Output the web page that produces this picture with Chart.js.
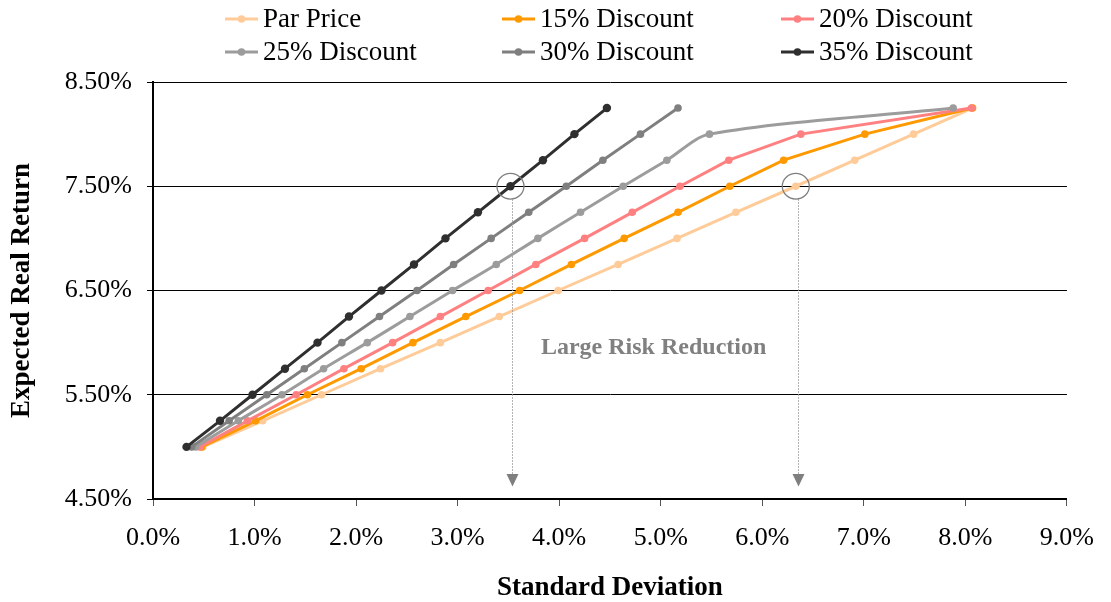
<!DOCTYPE html>
<html>
<head>
<meta charset="utf-8">
<script src="https://cdn.jsdelivr.net/npm/chart.js@4.4.1/dist/chart.umd.min.js"></script>
<style>
  html, body { margin: 0; padding: 0; background: #ffffff; }
  #wrap { width: 1111px; height: 602px; }
</style>
</head>
<body>
<div id="wrap"><canvas id="c" width="1111" height="602"></canvas></div>
<script>
// Expected real return (%) for each point on the frontiers
const returns = [5.00, 5.25, 5.50, 5.75, 6.00, 6.25, 6.50, 6.75, 7.00, 7.25, 7.50, 7.75, 8.00, 8.25];

// Standard deviation (%) of each frontier at those returns
const sdPar = [0.49, 1.08, 1.66, 2.24, 2.83, 3.41, 3.99, 4.58, 5.16, 5.74, 6.33, 6.91, 7.49, 8.07];
const sd15  = [0.48, 1.01, 1.52, 2.05, 2.56, 3.08, 3.61, 4.12, 4.64, 5.17, 5.68, 6.21, 7.01, 8.07];
const sd20  = [0.46, 0.93, 1.41, 1.88, 2.36, 2.83, 3.30, 3.77, 4.25, 4.72, 5.19, 5.67, 6.38, 8.06];
const sd25  = [0.42, 0.84, 1.27, 1.68, 2.11, 2.53, 2.95, 3.38, 3.79, 4.21, 4.63, 5.06, 5.48, 7.88];
const sd30  = [0.38, 0.75, 1.12, 1.49, 1.86, 2.23, 2.60, 2.96, 3.33, 3.70, 4.07, 4.43, 4.80, 5.17];
const sd35  = [0.33, 0.66, 0.98, 1.30, 1.62, 1.93, 2.25, 2.57, 2.88, 3.20, 3.52, 3.84, 4.15, 4.47];

const seriesLabels = ['Par Price', '15% Discount', '20% Discount', '25% Discount', '30% Discount', '35% Discount'];
const seriesSd = [sdPar, sd15, sd20, sd25, sd30, sd35];
const seriesColors = ['#FFCC99', '#FF9900', '#FF8080', '#9C9C9C', '#7F7F7F', '#2F2F2F'];

// Axis ticks
const xTicks = [0, 1, 2, 3, 4, 5, 6, 7, 8, 9];
const yTicks = [4.5, 5.5, 6.5, 7.5, 8.5];

// Highlighted return level and the label between the drop lines
const highlightReturn = 7.50;
const noteText = 'Large Risk Reduction';

const FONT = "'Liberation Serif', 'Times New Roman', serif";

const datasets = seriesLabels.map((label, i) => ({
  label,
  data: returns.map((r, k) => ({ x: seriesSd[i][k], y: r })),
  borderColor: seriesColors[i],
  backgroundColor: seriesColors[i],
  pointBackgroundColor: seriesColors[i],
  pointBorderWidth: 0,
  pointRadius: i === 5 ? 4.2 : 3.8,
  pointHoverRadius: 4,
  borderWidth: 3,
  tension: i === 3 ? 0.3 : 0,
  order: seriesLabels.length - i,
  fill: false
}));

// Two-row legend with line+marker swatches
const legendPlugin = {
  id: 'twoRowLegend',
  afterDraw(chart) {
    const ctx = chart.ctx;
    const colX = [225, 502, 781];
    const rowY = [19, 52];
    ctx.save();
    ctx.font = `27px ${FONT}`;
    ctx.textBaseline = 'middle';
    ctx.textAlign = 'left';
    chart.data.datasets.forEach((ds, i) => {
      const x = colX[i % 3];
      const y = rowY[Math.floor(i / 3)];
      ctx.strokeStyle = ds.borderColor;
      ctx.lineWidth = 3;
      ctx.beginPath();
      ctx.moveTo(x, y);
      ctx.lineTo(x + 33, y);
      ctx.stroke();
      ctx.fillStyle = ds.borderColor;
      ctx.beginPath();
      ctx.arc(x + 16.5, y, 3.8, 0, Math.PI * 2);
      ctx.fill();
      ctx.fillStyle = '#000000';
      ctx.fillText(ds.label, x + 38, y + 1);
    });
    ctx.restore();
  }
};

// Circles on the 7.50% points, dotted drop lines with arrows, and the note
const markerPlugin = {
  id: 'riskMarkers',
  afterDatasetsDraw(chart) {
    const { ctx, scales: { x, y } } = chart;
    const k = returns.indexOf(highlightReturn);
    const cy = y.getPixelForValue(highlightReturn);
    const arrowTip = y.getPixelForValue(4.62);
    const arrowTop = y.getPixelForValue(4.74);
    ctx.save();
    [sd35[k], sdPar[k]].forEach(sd => {
      const cx = x.getPixelForValue(sd);
      ctx.strokeStyle = '#7F7F7F';
      ctx.lineWidth = 1.3;
      ctx.setLineDash([]);
      ctx.beginPath();
      ctx.ellipse(cx, cy, 13.5, 12.8, 0, 0, Math.PI * 2);
      ctx.stroke();

      const lx = Math.round(cx + 2) + 0.5;
      ctx.strokeStyle = '#9A9A9A';
      ctx.lineWidth = 1;
      ctx.setLineDash([1.5, 1.5]);
      ctx.beginPath();
      ctx.moveTo(lx, cy + 13);
      ctx.lineTo(lx, arrowTop);
      ctx.stroke();

      ctx.setLineDash([]);
      ctx.fillStyle = '#7F7F7F';
      ctx.beginPath();
      ctx.moveTo(lx - 6, arrowTop);
      ctx.lineTo(lx + 6, arrowTop);
      ctx.lineTo(lx, arrowTip);
      ctx.closePath();
      ctx.fill();
    });

    ctx.fillStyle = '#808080';
    ctx.font = `bold 24px ${FONT}`;
    ctx.textAlign = 'center';
    ctx.textBaseline = 'middle';
    ctx.fillText(noteText, x.getPixelForValue(4.93), y.getPixelForValue(5.95));
    ctx.restore();
  }
};

new Chart(document.getElementById('c'), {
  type: 'line',
  data: { datasets },
  plugins: [legendPlugin, markerPlugin],
  options: {
    responsive: false,
    animation: false,
    devicePixelRatio: 1,
    layout: { padding: { top: 82, right: 43, bottom: 0, left: 0 } },
    plugins: {
      legend: { display: false },
      tooltip: { enabled: false }
    },
    scales: {
      x: {
        type: 'linear',
        min: xTicks[0],
        max: xTicks[xTicks.length - 1],
        afterBuildTicks(scale) { scale.ticks = xTicks.map(v => ({ value: v })); },
        afterFit(scale) { scale.height = 103; },
        ticks: {
          callback: v => v.toFixed(1) + '%',
          font: { family: FONT, size: 26 },
          color: '#000000',
          padding: 17,
          maxRotation: 0,
          autoSkip: false
        },
        grid: { drawOnChartArea: false, drawTicks: true, tickLength: 7, color: '#555555', lineWidth: 1 },
        border: { color: '#000000', width: 2 },
        title: {
          display: true,
          text: 'Standard Deviation',
          font: { family: FONT, size: 27, weight: 'bold', lineHeight: 1.0 },
          color: '#000000',
          padding: { top: 0, bottom: 0 }
        }
      },
      y: {
        type: 'linear',
        min: yTicks[0],
        max: yTicks[yTicks.length - 1],
        afterBuildTicks(scale) { scale.ticks = yTicks.map(v => ({ value: v })); },
        afterFit(scale) { scale.width = 153; },
        ticks: {
          callback: v => v.toFixed(2) + '%',
          font: { family: FONT, size: 26 },
          color: '#000000',
          padding: 15,
          autoSkip: false
        },
        grid: { color: '#000000', lineWidth: 1, drawTicks: true, tickLength: 6 },
        border: { color: '#000000', width: 2 },
        title: {
          display: true,
          text: 'Expected Real Return',
          font: { family: FONT, size: 27, weight: 'bold' },
          color: '#000000',
          padding: { top: 6, bottom: 0 }
        }
      }
    }
  }
});
</script>
</body>
</html>
